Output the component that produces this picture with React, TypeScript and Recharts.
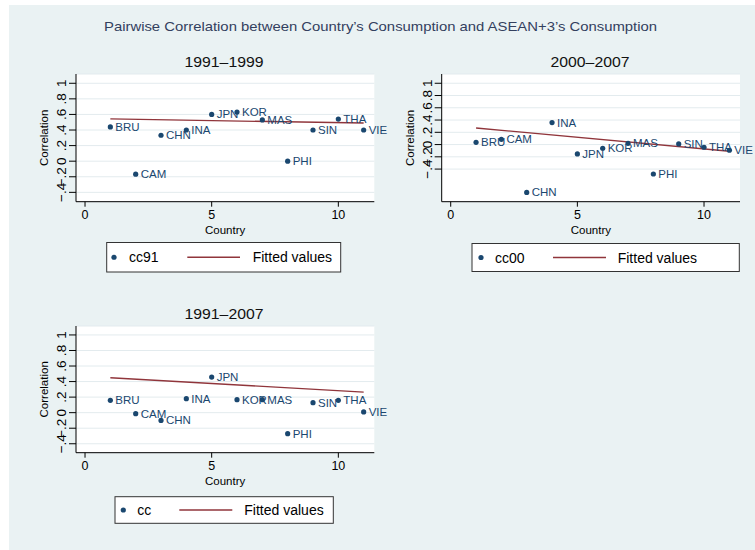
import { CartesianGrid, LabelList, Scatter, ScatterChart, XAxis, YAxis } from "recharts";

const countries = ["BRU", "CAM", "CHN", "INA", "JPN", "KOR", "MAS", "PHI", "SIN", "THA", "VIE"];
const countryCode = [1, 2, 3, 4, 5, 6, 7, 8, 9, 10, 11];

const cc91 = [0.44, -0.167, 0.333, 0.4, 0.6, 0.63, 0.53, 0.0, 0.4, 0.54, 0.4];
const cc00 = [0.037, 0.086, -0.78, 0.358, -0.153, -0.06, 0.02, -0.48, 0.01, -0.044, -0.093];
const cc = [0.159, -0.013, -0.1, 0.18, 0.458, 0.167, 0.167, -0.27, 0.128, 0.159, 0.01];

// fitted values at the first and last country code
const fitX = [1, 11];
const fit91 = [0.542, 0.49];
const fit00 = [0.27, -0.109];
const fitCc = [0.449, 0.265];

const yTicks = [-0.4, -0.2, 0, 0.2, 0.4, 0.6, 0.8, 1];
const xTicks = [0, 5, 10];

const NAVY = "#1a476f";
const MAROON = "#90353b";
const BG = "#eaf2f3";
const GRID = "#e3ebee";

const points = (vals: number[]) =>
  countryCode.map((c, i) => ({ x: c, y: vals[i], name: countries[i] }));
const fitted = (vals: number[]) => fitX.map((x, i) => ({ x, y: vals[i] }));

const fmtY = (v: number) => {
  if (Number.isInteger(v)) return String(v);
  const s = Math.abs(v).toFixed(1).replace(/^0/, "");
  return (v < 0 ? "\u2212" : "") + s;
};

const YTick = (props: any) => {
  const { x, y, payload } = props;
  return (
    <text
      x={x}
      y={y}
      transform={`rotate(-90 ${x} ${y})`}
      textAnchor="middle"
      dominantBaseline="central"
      fontSize={13.5}
      fill="#000"
    >
      {fmtY(payload.value)}
    </text>
  );
};

const Dot = (props: any) => <circle cx={props.cx} cy={props.cy} r={2.6} fill={NAVY} />;

// marker label to the right of the dot (Stata mlabpos 3)
const PointLabel = (props: any) => {
  const { x, y, width, height, value } = props;
  const cx = x + (width || 0) / 2;
  const cy = y + (height || 0) / 2;
  return (
    <text x={cx + 5} y={cy} dominantBaseline="central" fontSize={11.5} fill={NAVY}>
      {value}
    </text>
  );
};

type PanelProps = {
  left: number;
  top: number;
  vals: number[];
  fit: number[];
  yDomain: [number, number];
  margin: { top: number; right: number; bottom: number; left: number };
};

function Panel({ left, top, vals, fit, yDomain, margin }: PanelProps) {
  return (
    <div style={{ position: "absolute", left, top }}>
      <ScatterChart width={380} height={240} margin={margin}>
        <CartesianGrid vertical={false} fill="#ffffff" fillOpacity={1} stroke={GRID} />
        <XAxis
          type="number"
          dataKey="x"
          domain={[-0.356, 11.42]}
          ticks={xTicks}
          interval={0}
          allowDataOverflow
          height={30}
          stroke="#000"
          tickSize={5}
          tickMargin={3.5}
          tick={{ fontSize: 12.5, fill: "#000" }}
          label={{ value: "Country", position: "insideBottom", offset: -2.6, fontSize: 11.5, fill: "#000" }}
        />
        <YAxis
          type="number"
          dataKey="y"
          domain={yDomain}
          ticks={yTicks}
          interval={0}
          allowDataOverflow
          width={40}
          stroke="#000"
          tickSize={7}
          tickMargin={7}
          tick={<YTick />}
          label={{
            value: "Correlation",
            angle: -90,
            position: "insideLeft",
            offset: 8,
            fontSize: 11.5,
            fill: "#000",
            style: { textAnchor: "middle" },
          }}
        />
        <Scatter
          data={fitted(fit)}
          line={{ stroke: MAROON, strokeWidth: 1.3 }}
          shape={() => <g />}
          isAnimationActive={false}
        />
        <Scatter data={points(vals)} fill={NAVY} shape={<Dot />} isAnimationActive={false}>
          <LabelList dataKey="name" content={<PointLabel />} />
        </Scatter>
      </ScatterChart>
    </div>
  );
}

type LegendProps = {
  x: number;
  y: number;
  w: number;
  h: number;
  dotX: number;
  name: string;
  nameX: number;
  lineX1: number;
  lineX2: number;
  fitTextX: number;
};

function LegendBox({ x, y, w, h, dotX, name, nameX, lineX1, lineX2, fitTextX }: LegendProps) {
  const cy = y + h / 2;
  return (
    <g>
      <rect x={x} y={y} width={w} height={h} fill="#fff" stroke="#333" strokeWidth={1} />
      <circle cx={dotX} cy={cy} r={2.6} fill={NAVY} />
      <text x={nameX} y={cy + 5} fontSize={14} fill="#000">
        {name}
      </text>
      <line x1={lineX1} x2={lineX2} y1={cy} y2={cy} stroke={MAROON} strokeWidth={1.3} />
      <text x={fitTextX} y={cy + 5} fontSize={14} fill="#000">
        Fitted values
      </text>
    </g>
  );
}

export default function App() {
  return (
    <div
      style={{
        position: "absolute",
        left: 0,
        top: 0,
        width: 755,
        height: 550,
        background: "#fff",
        fontFamily: "'Liberation Sans', Arial, sans-serif",
      }}
    >
      <style>{`.recharts-surface { overflow: visible; }`}</style>
      <div style={{ position: "absolute", left: 9, top: 5, width: 746, height: 545, background: BG }} />
      <Panel
        left={0}
        top={0}
        vals={cc91}
        fit={fit91}
        yDomain={[-0.52, 1.119]}
        margin={{ top: 74, right: 5.7, bottom: 8.3, left: 36 }}
      />
      <Panel
        left={366}
        top={0}
        vals={cc00}
        fit={fit00}
        yDomain={[-0.932, 1.151]}
        margin={{ top: 74, right: 6, bottom: 8.3, left: 35.7 }}
      />
      <Panel
        left={0}
        top={252}
        vals={cc}
        fit={fitCc}
        yDomain={[-0.515, 1.115]}
        margin={{ top: 74, right: 5.7, bottom: 9.3, left: 36 }}
      />
      <svg
        width={755}
        height={550}
        style={{ position: "absolute", left: 0, top: 0, pointerEvents: "none" }}
      >
        <text
          x={380.5}
          y={31}
          textAnchor="middle"
          fontSize={13.5}
          textLength={553}
          lengthAdjust="spacingAndGlyphs"
          fill="#33405e"
        >
          Pairwise Correlation between Country’s Consumption and ASEAN+3’s Consumption
        </text>
        <text x={224} y={66.7} textAnchor="middle" fontSize={14} textLength={79} lengthAdjust="spacingAndGlyphs" fill="#111">
          1991–1999
        </text>
        <text x={590} y={67} textAnchor="middle" fontSize={14} textLength={79} lengthAdjust="spacingAndGlyphs" fill="#111">
          2000–2007
        </text>
        <text x={224} y={319.3} textAnchor="middle" fontSize={14} textLength={79} lengthAdjust="spacingAndGlyphs" fill="#111">
          1991–2007
        </text>
        <LegendBox x={106.7} y={242.5} w={234} h={29.5} dotX={114} name="cc91" nameX={129} lineX1={187.3} lineX2={240} fitTextX={252.7} />
        <LegendBox x={472} y={243.5} w={267.3} h={28} dotX={481} name="cc00" nameX={495} lineX1={553} lineX2={606} fitTextX={617.7} />
        <LegendBox x={115} y={496.7} w={218.3} h={26.6} dotX={123.3} name="cc" nameX={137.3} lineX1={179.3} lineX2={232.3} fitTextX={244.3} />
      </svg>
    </div>
  );
}
